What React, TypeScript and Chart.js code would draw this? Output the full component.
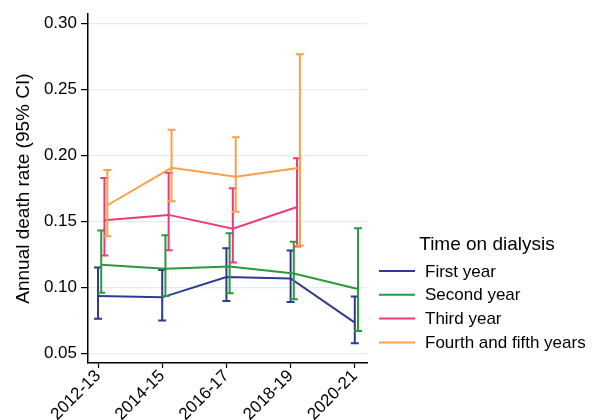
import React, { useEffect, useRef } from "react";
import { Chart, registerables } from "chart.js";

Chart.register(...registerables);

const periods = ["2012-13", "2014-15", "2016-17", "2018-19", "2020-21"];
const yTicks = [0.05, 0.1, 0.15, 0.2, 0.25, 0.3];

const seriesNames = ["First year", "Second year", "Third year", "Fourth and fifth years"];
const seriesColors = ["#2e3b90", "#2b9a3e", "#ee3a7b", "#f9a04a"];
const seriesOffsets = [0, 0.05, 0.1, 0.145];

const firstYear = [0.0937, 0.0927, 0.1081, 0.107, 0.0736];
const firstYearLo = [0.0764, 0.0751, 0.09, 0.0892, 0.058];
const firstYearHi = [0.1153, 0.1133, 0.1299, 0.1281, 0.0934];

const secondYear = [0.1173, 0.1143, 0.1161, 0.1108, 0.099];
const secondYearLo = [0.0962, 0.0937, 0.0957, 0.0912, 0.0673];
const secondYearHi = [0.1432, 0.1397, 0.1412, 0.1347, 0.145];

const thirdYear = [0.1511, 0.1551, 0.1447, 0.1611];
const thirdYearLo = [0.1244, 0.1284, 0.1191, 0.1312];
const thirdYearHi = [0.183, 0.187, 0.1752, 0.198];

const fourthFifth = [0.1624, 0.1907, 0.1839, 0.1907];
const fourthFifthLo = [0.139, 0.1654, 0.1575, 0.1319];
const fourthFifthHi = [0.189, 0.2196, 0.2138, 0.2767];

const values = [firstYear, secondYear, thirdYear, fourthFifth];
const lows = [firstYearLo, secondYearLo, thirdYearLo, fourthFifthLo];
const highs = [firstYearHi, secondYearHi, thirdYearHi, fourthFifthHi];

const FONT = "'Liberation Sans', Arial, Helvetica, sans-serif";

const errorBarPlugin = {
  id: "errorBars",
  afterDatasetDraw(chart: any, args: any) {
    const i = args.index;
    const ds = chart.data.datasets[i];
    const lo = ds.lo as number[];
    const hi = ds.hi as number[];
    const xs = chart.scales.x;
    const ys = chart.scales.y;
    const ctx = chart.ctx;
    ctx.save();
    ctx.strokeStyle = ds.borderColor;
    ctx.lineWidth = 2;
    ds.data.forEach((p: any, j: number) => {
      const x = xs.getPixelForValue(p.x);
      const y1 = ys.getPixelForValue(lo[j]);
      const y2 = ys.getPixelForValue(hi[j]);
      ctx.beginPath();
      ctx.moveTo(x, y1);
      ctx.lineTo(x, y2);
      ctx.moveTo(x - 4, y1);
      ctx.lineTo(x + 4, y1);
      ctx.moveTo(x - 4, y2);
      ctx.lineTo(x + 4, y2);
      ctx.stroke();
    });
    ctx.restore();
  },
};

const legendPlugin = {
  id: "customLegend",
  afterDraw(chart: any) {
    const ctx = chart.ctx;
    ctx.save();
    ctx.fillStyle = "#000";
    ctx.textBaseline = "middle";
    ctx.textAlign = "center";
    ctx.font = `19px ${FONT}`;
    ctx.fillText("Time on dialysis", 487, 245);
    ctx.font = `17px ${FONT}`;
    ctx.textAlign = "left";
    seriesNames.forEach((name, i) => {
      const y = 271 + i * 23.8;
      ctx.strokeStyle = seriesColors[i];
      ctx.lineWidth = 2;
      ctx.beginPath();
      ctx.moveTo(379, y);
      ctx.lineTo(415, y);
      ctx.stroke();
      ctx.fillStyle = "#000";
      ctx.fillText(name, 425, y + 1);
    });
    ctx.restore();
  },
};

export default function App() {
  const ref = useRef<HTMLCanvasElement | null>(null);
  useEffect(() => {
    if (!ref.current) return;
    const datasets = values.map((vals, s) => ({
      label: seriesNames[s],
      data: vals.map((v, j) => ({ x: j + seriesOffsets[s], y: v })),
      lo: lows[s],
      hi: highs[s],
      borderColor: seriesColors[s],
      backgroundColor: seriesColors[s],
      borderWidth: 2,
      pointRadius: 0,
      tension: 0,
      fill: false,
      order: 3 - s,
    }));
    const chart = new Chart(ref.current, {
      type: "line",
      data: { datasets } as any,
      plugins: [errorBarPlugin, legendPlugin],
      options: {
        animation: false,
        responsive: false,
        devicePixelRatio: 1,
        layout: { padding: { top: 13, right: 235, left: 0, bottom: 0 } },
        plugins: { legend: { display: false }, tooltip: { enabled: false } },
        scales: {
          x: {
            type: "linear",
            min: -0.156,
            max: 4.19,
            afterBuildTicks: (scale: any) => {
              scale.ticks = periods.map((_, i) => ({ value: i }));
            },
            afterFit: (scale: any) => {
              scale.height = 57;
            },
            ticks: {
              autoSkip: false,
              minRotation: 45,
              maxRotation: 45,
              padding: -2,
              color: "#000",
              font: { family: FONT, size: 17 },
              callback: (v: any) => periods[Math.round(v)] ?? "",
            },
            grid: {
              drawOnChartArea: false,
              drawTicks: true,
              tickLength: 5,
              tickColor: "#000",
              tickWidth: 1.2,
            },
            border: { display: true, color: "#000", width: 1.5 },
          },
          y: {
            type: "linear",
            min: 0.043,
            max: 0.307,
            afterBuildTicks: (scale: any) => {
              scale.ticks = yTicks.map((v) => ({ value: v }));
            },
            afterFit: (scale: any) => {
              scale.width = 88;
            },
            ticks: {
              padding: 4,
              color: "#000",
              font: { family: FONT, size: 17 },
              callback: (v: any) => Number(v).toFixed(2),
            },
            grid: {
              color: "#e3edf0",
              lineWidth: 1.2,
              drawTicks: true,
              tickLength: 7,
              tickColor: "#000",
              tickWidth: 1.2,
            },
            border: { display: true, color: "#000", width: 1.5 },
            title: {
              display: true,
              text: "Annual death rate (95% CI)",
              color: "#000",
              font: { family: FONT, size: 19 },
              padding: { top: 12, bottom: 0 },
            },
          },
        },
      } as any,
    });
    return () => chart.destroy();
  }, []);
  return (
    <div style={{ position: "absolute", left: 0, top: 0, width: 602, height: 420 }}>
      <canvas ref={ref} width={602} height={420} style={{ display: "block" }} />
    </div>
  );
}
